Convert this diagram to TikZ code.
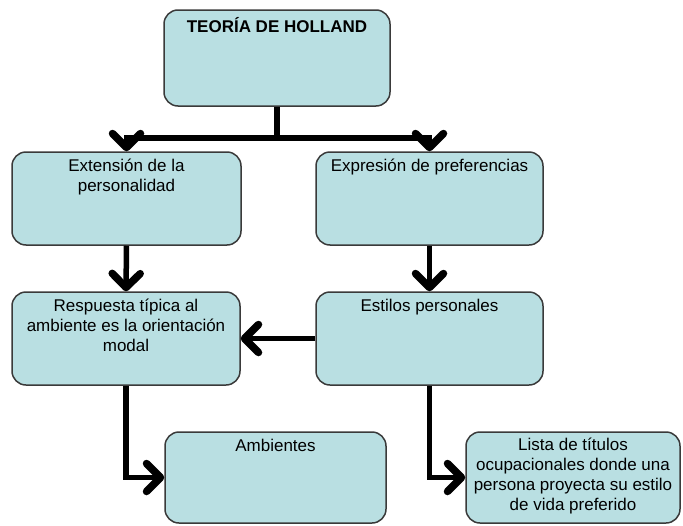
\documentclass[tikz,border=0pt]{standalone}
\usepackage{fontspec}
\setmainfont{Liberation Sans}
\usetikzlibrary{arrows.meta}
\definecolor{boxfill}{HTML}{B9DFE2}
\definecolor{boxline}{HTML}{3A3A3A}
\begin{document}
\begin{tikzpicture}[x=1pt,y=-1pt,
  box/.style={draw=boxline,fill=boxfill,line width=1.5pt,rounded corners=14pt,inner sep=0pt},
  txt/.style={anchor=north,align=center,inner sep=0pt,font=\fontsize{17}{20}\selectfont},
  conn/.style={line width=5.5pt,-{Straight Barb[length=14pt,width=28pt,line width=7.5pt,round]}}]
\useasboundingbox[fill=white] (0,0) rectangle (683,525);
% boxes
\node[box,minimum width=226pt,minimum height=96pt] (top) at (277,58) {};
\node[box,minimum width=229pt,minimum height=93pt] (ext) at (126.5,198.5) {};
\node[box,minimum width=227pt,minimum height=93pt] (exp) at (429.5,198.5) {};
\node[box,minimum width=228pt,minimum height=93pt] (resp) at (126,338.5) {};
\node[box,minimum width=227pt,minimum height=93pt] (est) at (429.5,338.5) {};
\node[box,minimum width=221pt,minimum height=91pt] (amb) at (275.5,477.5) {};
\node[box,minimum width=214pt,minimum height=91pt] (lista) at (573,477.5) {};
% texts
\node[txt,font=\fontsize{17}{20}\selectfont\bfseries] (ttop) at ([yshift=-8pt]top.north) {TEORÍA DE HOLLAND};
\node[txt] (text) at ([yshift=-8pt]ext.north) {Extensión de la\\personalidad};
\node[txt] (texp) at ([yshift=-8pt]exp.north) {Expresión de preferencias};
\node[txt] (tresp) at ([yshift=-8pt]resp.north) {Respuesta típica al\\ambiente es la orientación\\modal};
\node[txt] (test) at ([yshift=-8pt]est.north) {Estilos personales};
\node[txt] (tamb) at ([yshift=-8pt]amb.north) {Ambientes};
\node[txt] (tlista) at ([yshift=-7pt]lista.north) {Lista de títulos\\ocupacionales donde una\\persona proyecta su estilo\\de vida preferido};
% connectors
\draw[line width=5.5pt] (top.south) -- ++(0,31) coordinate (j);
\draw[conn] (j) -| (ext.north);
\draw[conn] (j) -| (exp.north);
\draw[conn] (ext.south) -- (resp.north);
\draw[conn] (exp.south) -- (est.north);
\draw[conn] (est.west) -- (resp.east);
\draw[conn] (resp.south) |- (amb.west);
\draw[conn] (est.south) |- (lista.west);
\end{tikzpicture}
\end{document}
